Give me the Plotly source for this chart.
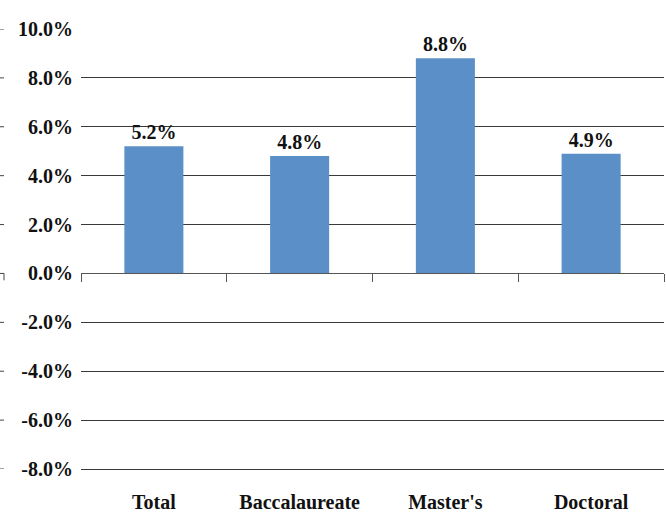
import plotly.graph_objects as go

categories = ["Total", "Baccalaureate", "Master's", "Doctoral"]
values = [5.2, 4.8, 8.8, 4.9]
value_labels = ["5.2%", "4.8%", "8.8%", "4.9%"]
tick_values = [-8, -6, -4, -2, 0, 2, 4, 6, 8, 10]
tick_labels = ["-8.0%", "-6.0%", "-4.0%", "-2.0%", "0.0%", "2.0%", "4.0%", "6.0%", "8.0%", "10.0%"]

FONT = "Liberation Serif"
BAR = "#5B8FC7"
GRID = "#3a3a3a"
FS = 20

W, H = 666, 516
ML, MR, MT, MB = 81, 2, 29, 47
PLOT_W = W - ML - MR

fig = go.Figure()
fig.add_trace(go.Bar(
    x=categories, y=values, marker_color=BAR, marker_line_width=0,
    text=value_labels, textposition="outside", cliponaxis=False,
    textfont=dict(family=FONT, size=FS, color="#111", weight="bold"),
    hoverinfo="skip",
))
fig.add_trace(go.Scatter(
    x=categories, y=values, xaxis="x2", yaxis="y", mode="markers",
    marker=dict(opacity=0), hoverinfo="skip", showlegend=False,
))

# small stray tick marks at the far left edge, one per y tick
for v in tick_values:
    fig.add_shape(type="line", xref="paper", yref="y",
                  x0=-ML / PLOT_W, x1=-(ML - 4) / PLOT_W, y0=v, y1=v,
                  line=dict(color="#444", width=1))
fig.add_shape(type="line", xref="paper", yref="y",
              x0=-(ML - 4) / PLOT_W, x1=-(ML - 4) / PLOT_W, y0=0, y1=-0.28,
              line=dict(color="#444", width=1))

fig.update_layout(
    width=W, height=H,
    margin=dict(l=ML, r=MR, t=MT, b=MB),
    paper_bgcolor="white", plot_bgcolor="white",
    showlegend=False,
    bargap=0.595,
    font=dict(family=FONT, size=FS, color="#111"),
    xaxis=dict(
        type="category", domain=[0, 1], automargin=False,
        showline=True, linecolor=GRID, linewidth=1, showgrid=False, ticks="",
        tickfont=dict(family=FONT, size=FS, color="#111", weight="bold"),
        ticklabelstandoff=15,
    ),
    xaxis2=dict(
        type="category", overlaying="x", anchor="free", position=8/18,
        matches="x", showticklabels=False, showgrid=False, automargin=False,
        showline=True, linecolor="#555", linewidth=1,
        ticks="outside", tickson="boundaries", ticklen=8, tickcolor="#555", tickwidth=1,
    ),
    yaxis=dict(
        range=[-8, 10], tickvals=tick_values, ticktext=tick_labels, automargin=False,
        showgrid=True, gridcolor=GRID, gridwidth=1, zeroline=False,
        showline=False, ticks="outside", ticklen=3, tickcolor="rgba(0,0,0,0)",
        tickfont=dict(family=FONT, size=FS, color="#111", weight="bold"),
    ),
)

fig.write_html("out.html", config={"displayModeBar": False},
               post_script="document.body.style.margin='0';")
